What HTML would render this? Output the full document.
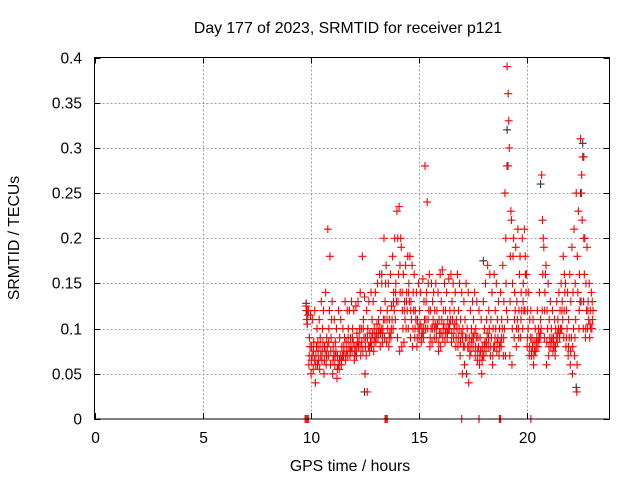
<!DOCTYPE html>
<html><head><meta charset="utf-8"><style>
body{margin:0;background:#fff;}
svg{display:block;font-family:"Liberation Sans",sans-serif;}
</style></head><body>
<svg id="chart" width="640" height="480" viewBox="0 0 640 480">
<rect width="640" height="480" fill="#fff"/>
<g id="grid"></g>
<g id="pts"></g>
<rect x="94.5" y="57.5" width="515" height="361.5" fill="none" stroke="#000" stroke-width="1"/>
<g id="ticks"></g>
<text x="348" y="33" font-size="15.8" text-anchor="middle">Day 177 of 2023, SRMTID for receiver p121</text>
<text x="350" y="471" font-size="15.8" text-anchor="middle">GPS time / hours</text>
<text transform="translate(19,238) rotate(-90)" font-size="15.8" text-anchor="middle">SRMTID / TECUs</text>
</svg>
<script>
const xTicks=[0,5,10,15,20];
const yTicks=[0,0.05,0.1,0.15,0.2,0.25,0.3,0.35,0.4];
const yTickLabels=["0","0.05","0.1","0.15","0.2","0.25","0.3","0.35","0.4"];
const times=[9.8,9.9,10.0,10.1,10.2,10.3,10.4,10.5,10.6,10.7,10.8,10.9,11.0,11.1,11.2,11.3,11.4,11.5,11.6,11.7,11.8,11.9,12.0,12.1,12.2,12.3,12.4,12.5,12.6,12.7,12.8,12.9,13.0,13.1,13.2,13.3,13.4,13.5,13.6,13.7,13.8,13.9,14.0,14.1,14.2,14.3,14.4,14.5,14.6,14.7,14.8,14.9,15.0,15.1,15.2,15.3,15.4,15.5,15.6,15.7,15.8,15.9,16.0,16.1,16.2,16.3,16.4,16.5,16.6,16.7,16.8,16.9,17.0,17.1,17.2,17.3,17.4,17.5,17.6,17.7,17.8,17.9,18.0,18.1,18.2,18.3,18.4,18.5,18.6,18.7,18.8,18.9,19.0,19.1,19.2,19.3,19.4,19.5,19.6,19.7,19.8,19.9,20.0,20.1,20.2,20.3,20.4,20.5,20.6,20.7,20.8,20.9,21.0,21.1,21.2,21.3,21.4,21.5,21.6,21.7,21.8,21.9,22.0,22.1,22.2,22.3,22.4,22.5,22.6,22.7,22.8,22.9,23.0];
const valuesA=[.125,.12,.115,.11,.12,.10,.11,.13,.12,.14,
.21,.18,.13,.11,.10,.12,.11,.10,.13,.12,
.12,.13,.12,.125,.13,.14,.18,.135,.12,.13,
.14,.13,.14,.15,.16,.15,.20,.17,.15,.16,
.18,.20,.23,.235,.19,.16,.17,.18,.18,.17,
.16,.14,.15,.14,.155,.28,.24,.16,.15,.14,
.15,.14,.16,.165,.15,.14,.155,.16,.15,.14,
.16,.15,.14,.13,.15,.14,.12,.13,.14,.13,
.12,.11,.13,.15,.17,.16,.14,.16,.15,.13,
.14,.17,.25,.39,.30,.22,.20,.19,.21,.18,
.20,.21,.16,.14,.12,.11,.10,.12,.14,.27,
.19,.17,.15,.13,.12,.11,.13,.14,.15,.18,
.15,.14,.16,.19,.21,.25,.23,.31,.29,.20,
.19,.15,.14];
const valuesB=[.105,.09,.08,.085,.07,.075,.09,.10,.08,.09,
.10,.09,.08,.085,.07,.09,.08,.075,.085,.10,
.09,.10,.08,.095,.09,.10,.11,.09,.10,.095,
.11,.10,.095,.11,.12,.10,.13,.12,.11,.125,
.14,.15,.13,.14,.12,.13,.14,.15,.13,.14,
.12,.11,.12,.10,.13,.13,.15,.12,.13,.12,
.12,.11,.13,.12,.12,.11,.12,.13,.12,.11,
.12,.11,.10,.11,.10,.09,.10,.11,.10,.09,
.09,.08,.10,.11,.12,.11,.10,.12,.11,.10,
.11,.13,.15,.36,.18,.15,.14,.13,.12,.14,
.15,.16,.12,.11,.09,.085,.08,.10,.11,.16,
.14,.12,.11,.10,.09,.10,.11,.12,.13,.16,
.12,.11,.13,.14,.15,.18,.16,.27,.20,.15,
.13,.12,.11];
const valuesC=[.11,.06,.05,.055,.04,.06,.055,.065,.05,.06,
.07,.06,.05,.06,.045,.055,.06,.07,.065,.07,
.07,.075,.065,.07,.08,.07,.075,.05,.03,.08,
.08,.075,.085,.09,.08,.085,.09,.085,.08,.09,
.10,.11,.09,.075,.08,.085,.10,.10,.09,.08,
.09,.08,.09,.085,.09,.10,.10,.08,.085,.09,
.09,.075,.08,.09,.085,.09,.10,.085,.09,.08,
.08,.07,.05,.06,.05,.04,.075,.08,.07,.065,
.06,.05,.07,.075,.08,.07,.06,.08,.075,.07,
.08,.07,.07,.11,.07,.06,.09,.08,.10,.09,
.10,.12,.08,.07,.07,.06,.075,.08,.09,.12,
.09,.06,.07,.08,.075,.07,.085,.09,.10,.09,
.08,.07,.06,.05,.07,.03,.10,.13,.10,.09,
.10,.09,.10];
const valuesD=[.115,.08,.07,.065,.08,.065,.07,.085,.075,.08,
.12,.11,.07,.075,.06,.07,.07,.09,.075,.08,
.08,.085,.075,.085,.10,.085,.09,.07,.08,.085,
.095,.09,.105,.10,.10,.11,.15,.10,.095,.11,
.12,.13,.16,.20,.10,.11,.12,.13,.11,.12,
.11,.10,.105,.095,.11,.14,.12,.10,.11,.105,
.105,.095,.11,.105,.10,.10,.11,.11,.105,.10,
.10,.095,.08,.09,.08,.07,.09,.095,.09,.08,
.075,.07,.085,.095,.10,.09,.08,.10,.09,.085,
.10,.10,.12,.33,.23,.18,.12,.11,.16,.12,
.12,.14,.10,.09,.08,.075,.09,.09,.10,.20,
.16,.10,.09,.09,.08,.09,.10,.10,.11,.14,
.10,.09,.09,.10,.11,.14,.13,.22,.16,.12,
.11,.10,.12];
const valuesE=[.12,.07,.065,.075,.06,.085,.08,.075,.065,.07,
.085,.075,.065,.07,.055,.065,.065,.08,.07,.09,
.075,.09,.07,.08,.085,.08,.10,.08,.09,.075,
.09,.085,.09,.095,.095,.095,.11,.11,.09,.10,
.13,.14,.20,.17,.14,.12,.13,.14,.12,.10,
.10,.09,.10,.09,.10,.11,.11,.09,.10,.10,
.10,.085,.095,.10,.095,.095,.105,.095,.10,.09,
.09,.085,.09,.08,.09,.08,.085,.09,.08,.075,
.07,.065,.08,.085,.09,.08,.07,.09,.085,.08,
.09,.09,.20,.28,.13,.10,.11,.10,.09,.11,
.13,.18,.09,.08,.075,.07,.085,.085,.095,.22,
.12,.085,.08,.085,.085,.08,.095,.095,.12,.12,
.09,.08,.075,.08,.09,.06,.12,.25,.13,.10,
.12,.105,.13];
const zeroTimes=[9.75,9.8,9.85,9.9,13.45,13.5,13.55,17.0,17.8,18.75,18.8,20.2];
const blackTimes=[9.8,9.8,12.5,13.3,18.0,19.1,19.1,20.65,22.5,22.6,22.65,22.3];
const blackValues=[.128,.12,.03,.16,.175,.32,.28,.26,.25,.305,.29,.035];

const X0=94.5,X1=609.5,Y0=419,Y1=57.5,XMAX=23.84,YMAX=0.4;
const xs=v=>X0+(v/XMAX)*(X1-X0);
const ys=v=>Y0-(v/YMAX)*(Y0-Y1);
const NS="http://www.w3.org/2000/svg";
function mk(tag,attrs,parent){const e=document.createElementNS(NS,tag);for(const k in attrs)e.setAttribute(k,attrs[k]);parent.appendChild(e);return e;}
const grid=document.getElementById('grid'),ticks=document.getElementById('ticks'),pts=document.getElementById('pts');
xTicks.forEach((t,i)=>{
  const x=Math.round(xs(t))+0.5;
  if(t>0){const g=mk('line',{x1:x,x2:x,y1:Y1,y2:Y0,stroke:'#a0a0a0','stroke-dasharray':'2,2'},grid);
  
  }
  const tk=mk('path',{d:`M${x} ${Y0}v-6M${x} ${Y1}v6`,stroke:'#000'},ticks);
  
  
  const lb=mk('text',{x:x,y:443,'font-size':15.5,'text-anchor':'middle'},ticks);lb.textContent=String(t);
  
  
});
yTicks.forEach((t,i)=>{
  const y=Math.round(ys(t))+0.5;
  if(t>0&&t<YMAX){const g=mk('line',{x1:X0,x2:X1,y1:y,y2:y,stroke:'#a0a0a0','stroke-dasharray':'2,2'},grid);
  
  }
  const tk=mk('path',{d:`M${X0} ${y}h6M${X1} ${y}h-6`,stroke:'#000'},ticks);
  
  
  const lb=mk('text',{x:82,y:y+5,'font-size':15.5,'text-anchor':'end'},ticks);lb.textContent=yTickLabels[i];
  
  
});
function cross(t,v,col){
  const x=xs(t),y=ys(v);
  const p=mk('path',{d:`M${x-4} ${y}h8M${x} ${y-4}v8`,stroke:col,'stroke-width':1.1},pts);
  
  
}
blackTimes.forEach((t,i)=>cross(t,blackValues[i],'#333'));
times.forEach((t,i)=>{
  cross(t,valuesA[i],'#f00');
  cross(t+0.05,valuesB[i],'#f00');
  cross(t+0.025,valuesC[i],'#f00');
  cross(t+0.075,valuesD[i],'#f00');
  cross(t+0.04,valuesE[i],'#f00');
});
zeroTimes.forEach(t=>cross(t,0,'#f00'));
</script>
</body></html>
